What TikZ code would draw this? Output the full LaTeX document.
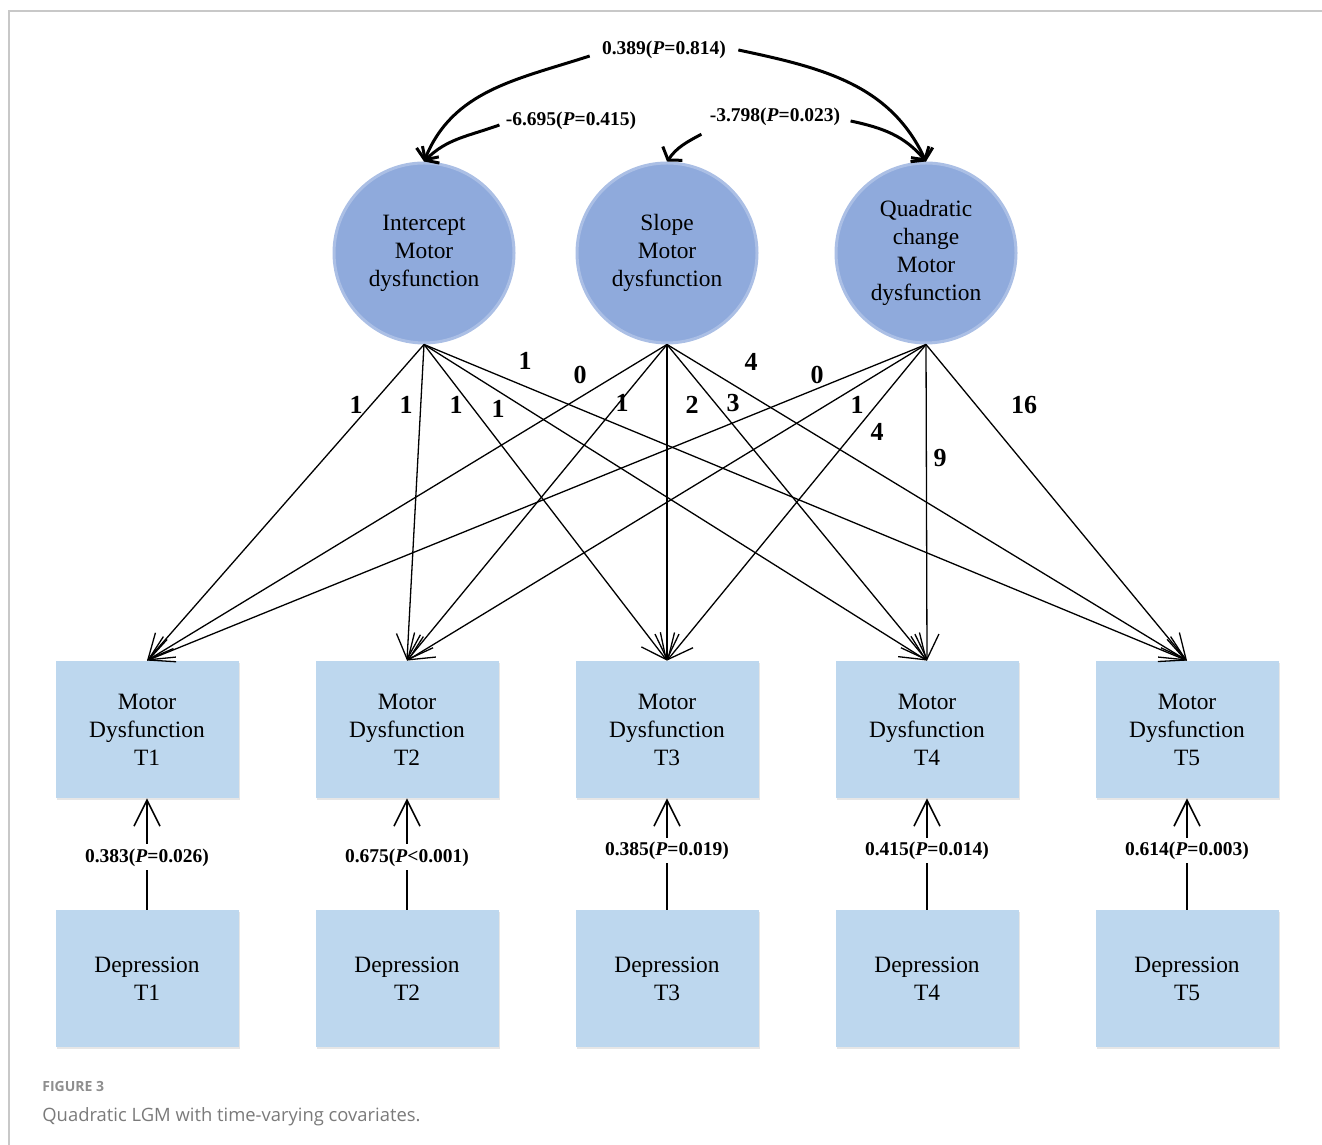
\documentclass[tikz,border=0pt]{standalone}
\usepackage{fontspec}
\setmainfont{Liberation Serif}
\newfontfamily\capfont{Open Sans}
\usetikzlibrary{arrows.meta,shadows}

\definecolor{latentblue}{HTML}{8FAADC}
\definecolor{obsblue}{HTML}{BDD7EE}
\definecolor{framegray}{HTML}{C8C8C8}
\definecolor{capgray}{HTML}{7A7A7A}

\begin{document}
\begin{tikzpicture}[x=0.5pt,y=0.5pt,
  latent/.style={circle,fill=latentblue,draw=latentblue!75!white,line width=1.5pt,
    minimum size=90pt,inner sep=0pt,align=center,font=\fontsize{11.7}{14}\selectfont},
  obs/.style={rectangle,fill=obsblue,minimum width=91.5pt,minimum height=68.5pt,
    align=center,font=\fontsize{11.7}{14}\selectfont,
    drop shadow={shadow xshift=0.8pt,shadow yshift=-0.8pt,opacity=0.2}},
  coef/.style={font=\fontsize{9.75}{11}\selectfont\bfseries,inner sep=2pt},
  load/.style={font=\fontsize{13}{14}\selectfont\bfseries,inner sep=0pt},
  path/.style={-{Straight Barb[length=12.5pt,width=12pt]},line width=0.65pt},
  reg/.style={-{Straight Barb[length=13pt,width=13pt]},line width=0.8pt},
  cov/.style={-{Straight Barb[length=4pt,width=12pt]},line width=1.5pt},
]
  \useasboundingbox (0,0) rectangle (1322,1145);
  \draw[framegray,line width=1pt] (9,0) -- (9,1134) -- (1322,1134);

  % growth factors
  \node[latent] (icpt)  at (424,892) {Intercept\\Motor\\dysfunction};
  \node[latent] (slope) at (667,892) {Slope\\Motor\\dysfunction};
  \node[latent] (quad)  at (926,892) {Quadratic\\change\\Motor\\dysfunction};

  % repeated measures and covariates
  \foreach \i/\x in {1/147,2/407,3/667,4/927,5/1187} {
    \node[obs] (md\i)  at (\x,415.5) {Motor\\Dysfunction\\T\i};
    \node[obs] (dep\i) at (\x,166.5) {Depression\\T\i};
  }

  % loadings
  \foreach \i in {1,...,5} {
    \draw[path] (icpt.south)  -- (md\i.north);
    \draw[path] (slope.south) -- (md\i.north);
    \draw[path] (quad.south)  -- (md\i.north);
  }
  \foreach \x/\y/\t [count=\k] in {356/740/1,406/740/1,456/740/1,498/736/1,525/784/1,
      580/770/0,622/742/1,692/740/2,733/742/3,751/783/4,
      817/770/0,857/740/1,877/713/4,940/687/9,1024/740/16}
    \node[load] (w\k) at (\x,\y) {\t};

  % covariances
  \node[coef] (c13) at (664,1095) {0.389(\textit{P}=0.814)};
  \node[coef] (c12) at (571,1024) {-6.695(\textit{P}=0.415)};
  \node[coef] (c23) at (775,1028) {-3.798(\textit{P}=0.023)};
  \draw[cov] ([xshift=-4pt,yshift=-3pt]c13.west) to[out=198,in=68] (icpt.north);
  \draw[cov] ([xshift=4pt]c13.east) to[out=-12,in=115] (quad.north);
  \draw[cov] ([xshift=-1pt,yshift=-2pt]c12.west) to[out=200,in=45] (icpt.north);
  \draw[cov] ([xshift=-2pt,yshift=-2pt]c23.south west) to[out=208,in=55] (slope.north);
  \draw[cov] ([xshift=3pt,yshift=-2pt]c23.east) to[out=-12,in=130] (quad.north);

  % time-varying covariates
  \draw[reg] (dep1.north) -- node[coef,fill=white,pos=0.47] (b1) {0.383(\textit{P}=0.026)} (md1.south);
  \draw[reg] (dep2.north) -- node[coef,fill=white,pos=0.47] (b2) {0.675(\textit{P}<0.001)} (md2.south);
  \draw[reg] (dep3.north) -- node[coef,fill=white,pos=0.53] (b3) {0.385(\textit{P}=0.019)} (md3.south);
  \draw[reg] (dep4.north) -- node[coef,fill=white,pos=0.53] (b4) {0.415(\textit{P}=0.014)} (md4.south);
  \draw[reg] (dep5.north) -- node[coef,fill=white,pos=0.53] (b5) {0.614(\textit{P}=0.003)} (md5.south);

  % caption
  \node[anchor=base west,inner sep=0pt,text=capgray!85!white,font=\capfont\bfseries\fontsize{7}{8}\selectfont] (fig) at (42,53) {FIGURE 3};
  \node[anchor=base west,inner sep=0pt,text=capgray,font=\capfont\fontsize{9.2}{10}\selectfont] (cap) at (42,23) {Quadratic LGM with time-varying covariates.};
\end{tikzpicture}
\end{document}
